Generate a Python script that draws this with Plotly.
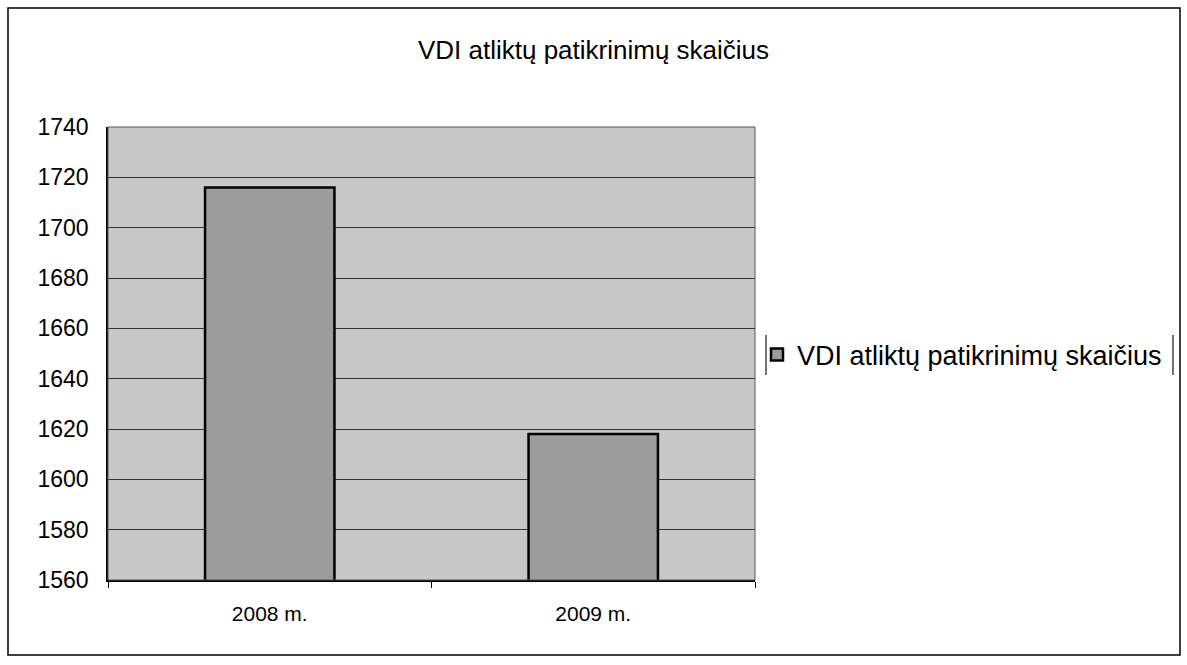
import plotly.graph_objects as go

categories = ["2008 m.", "2009 m."]
values = [1716, 1618]
series_name = "VDI atliktų patikrinimų skaičius"
title_text = "VDI atliktų patikrinimų skaičius"
y_ticks = [1560, 1580, 1600, 1620, 1640, 1660, 1680, 1700, 1720, 1740]

W, H = 1187, 665
L, R, T, B = 108, 755, 127, 580
pw, ph = R - L, B - T

def px_x(x):
    return (x - L) / pw

def px_y(y):
    return (B - y) / ph

fig = go.Figure()
fig.add_trace(go.Bar(
    x=categories, y=values, name=series_name,
    marker=dict(color="#9c9c9c", line=dict(color="black", width=2.5)),
    showlegend=True,
))

shapes = [
    dict(type="rect", xref="paper", yref="paper",
         x0=px_x(8), x1=px_x(1180), y0=px_y(655), y1=px_y(8),
         line=dict(color="black", width=1.5), layer="below"),
    dict(type="line", xref="paper", yref="paper",
         x0=px_x(766), x1=px_x(766), y0=px_y(375), y1=px_y(335),
         line=dict(color="#444", width=1.5)),
    dict(type="line", xref="paper", yref="paper",
         x0=px_x(1173), x1=px_x(1173), y0=px_y(375), y1=px_y(335),
         line=dict(color="#444", width=1.5)),
    dict(type="rect", xref="paper", yref="paper", x0=0, x1=1, y0=0, y1=1,
         line=dict(color="#555", width=1)),
]

fig.update_layout(
    width=W, height=H,
    margin=dict(l=L, r=W - R, t=T, b=H - B, autoexpand=False),
    paper_bgcolor="white",
    plot_bgcolor="#c8c8c8",
    font=dict(family="Liberation Sans, Arial, sans-serif", color="black", size=22),
    title=dict(text=title_text, x=0.5, xref="container", xanchor="center",
               y=1 - 50 / H, yanchor="middle", font=dict(size=26)),
    bargap=0.6,
    shapes=shapes,
    legend=dict(x=px_x(757), y=px_y(355), xanchor="left", yanchor="middle",
                xref="paper", yref="paper", bgcolor="rgba(0,0,0,0)",
                font=dict(size=27), itemwidth=30),
    xaxis=dict(type="category", tickson="boundaries", ticks="outside",
               ticklen=6, tickcolor="black", showline=True, linecolor="black",
               linewidth=1.5, showgrid=False, tickfont=dict(size=21),
               ticklabelstandoff=14),
    yaxis=dict(range=[1560, 1740], tickvals=y_ticks, ticks="",
               showline=True, linecolor="black", ticklabelstandoff=13,
               linewidth=1.5, showgrid=True, gridcolor="#333", gridwidth=1,
               zeroline=False, tickfont=dict(size=23)),
)

fig.write_html("out.html", config={"displayModeBar": False},
               post_script="document.body.style.margin='0';")
